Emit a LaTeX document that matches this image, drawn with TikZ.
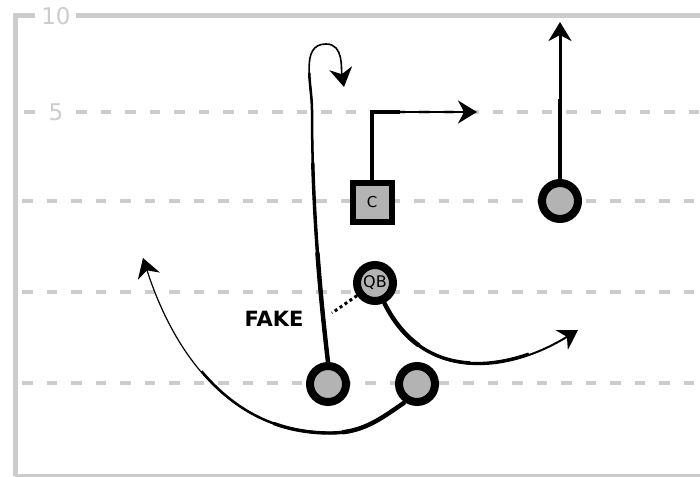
\documentclass[tikz,border=0pt]{standalone}
\usepackage{fontspec}
\setmainfont{DejaVu Sans}
\usetikzlibrary{arrows.meta}
\definecolor{fieldgray}{RGB}{204,204,204}
\definecolor{playergray}{RGB}{179,179,179}

\begin{document}
\begin{tikzpicture}[
  x=1pt,
  y=-1pt,
  line cap=butt,
  yard/.style={draw=fieldgray,line width=4pt,dash pattern=on 10.5pt off 14pt},
  border/.style={draw=fieldgray,line width=5pt},
  yardnum/.style={text=fieldgray,inner sep=0pt,font=\fontsize{23}{23}\selectfont},
  player/.style={circle,draw=black,fill=playergray,line width=8pt,minimum size=36pt,inner sep=0pt,font=\fontsize{16}{16}\selectfont},
  snapper/.style={rectangle,draw=black,fill=playergray,line width=6pt,minimum size=39pt,inner sep=0pt,font=\fontsize{15}{15}\selectfont},
  route/.style={draw=black,line width=1.6pt,-{Stealth[length=19pt,width=23pt,inset=6pt]}},
  taper/.style n args={3}{
    postaction={draw,-,line width=2.5pt,dash pattern=on #1 off 2000pt},
    postaction={draw,-,line width=3.4pt,dash pattern=on #2 off 2000pt},
    postaction={draw,-,line width=4.4pt,dash pattern=on #3 off 2000pt}}
]
  \useasboundingbox (0,0) rectangle (700,476);

  % Field border and yard numbers.
  \draw[border] (35,16) -| (15,476);
  \draw[border] (76,16) -- (700,16);
  \draw[border] (15,476) -- (700,476);
  \node[yardnum] (ten) at (56,16) {10};
  \node[yardnum] (five) at (56,112) {5};

  % Yard lines.
  \draw[yard] (24,112) -- (40,112);
  \draw[yard] (76,112) -- (700,112);
  \foreach \y in {201,292,383} {
    \draw[yard] (22,\y) -- (700,\y);
  }

  % Players.
  \node[snapper] (c) at (372,202) {C};
  \node[player] (wr) at (560,201) {};
  \node[player] (qb) at (375,283) {QB};
  \node[player] (rb1) at (328,384) {};
  \node[player] (rb2) at (417,384) {};

  % Route ends.
  \coordinate (cEnd) at (477,112);
  \coordinate (wrEnd) at (560,22);
  \coordinate (qbEnd) at (578,330);
  \coordinate (rbOneEnd) at (344,87);
  \coordinate (rbTwoEnd) at (143,258);
  \coordinate (fakeEnd) at (332,313);

  % Routes, thick at the player and thin at the tip.
  \draw[route,taper={130pt}{95pt}{70pt}] (c.north) |- (cEnd);
  \draw[route,line width=3pt,taper={120pt}{80pt}{40pt}] (wr.north) -- (wrEnd);
  \draw[route,line width=2pt,taper={170pt}{110pt}{55pt}] (qb.295) .. controls (425,385) and (510,372) .. (qbEnd);
  \draw[route,taper={290pt}{200pt}{110pt}] (rb1.north) .. controls (316,260) and (312,180) .. (312,110)
    to[out=90,in=180] (326,44) to[out=0,in=100] (rbOneEnd);
  \draw[route,line width=1.2pt,taper={230pt}{140pt}{70pt}] (rb2.236) to[out=215,in=0] (330,433)
    to[out=180,in=-72] (rbTwoEnd);
  \draw[black,line width=3pt,dash pattern=on 3pt off 3pt] (qb.215) -- (fakeEnd);

  \node[font=\bfseries\fontsize{21}{21}\selectfont,inner sep=0pt] (fake) at (274,319) {FAKE};
\end{tikzpicture}
\end{document}
